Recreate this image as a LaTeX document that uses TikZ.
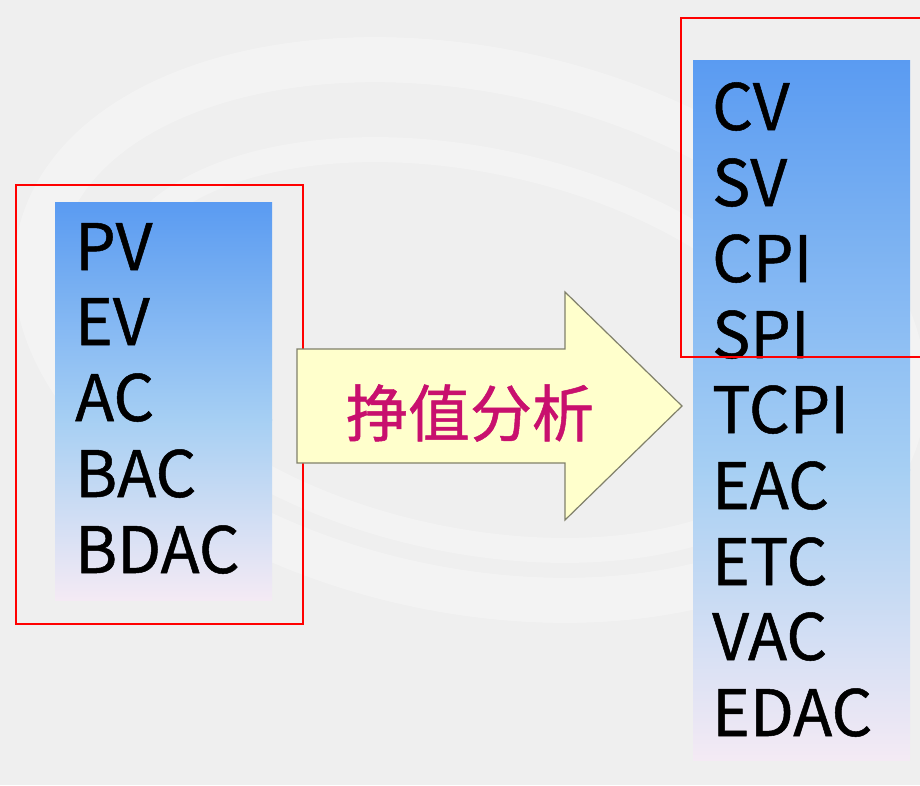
\documentclass[tikz,border=0pt]{standalone}
\usepackage{fontspec}
\newfontfamily\cjk[FakeBold=0.8]{Noto Sans CJK SC}
\definecolor{bg}{HTML}{EFEFEF}
\definecolor{blueTop}{HTML}{5A9BF2}
\definecolor{blueMid}{HTML}{A6CFF3}
\definecolor{paleBot}{HTML}{F4EAF4}
\definecolor{arrowFill}{HTML}{FFFFCC}
\definecolor{arrowLine}{HTML}{80806A}
\definecolor{labelCol}{HTML}{C8106E}
\tikzset{
  term/.style={anchor=base west, inner sep=0pt, font=\cjk\fontsize{64}{64}\selectfont, text=black},
  redframe/.style={draw=red, line width=1.8pt},
  swirl/.style={draw=white, opacity=0.3, line width=45pt},
}
\begin{document}
\begin{tikzpicture}[x=1pt,y=-1pt]
\useasboundingbox (0,0) rectangle (920,785);
\fill[bg] (0,0) rectangle (920,785);
% background swirls
\begin{scope}
\clip (0,0) rectangle (920,785);
\draw[swirl] (470,330) ellipse [x radius=440, y radius=260, rotate=-12];
\draw[swirl, line width=25pt, opacity=0.25] (470,350) ellipse [x radius=360, y radius=190, rotate=-12];
\end{scope}
% left gradient box
\shade[top color=blueTop, bottom color=blueMid] (55,202) rectangle (272,420);
\shade[top color=blueMid, bottom color=paleBot] (55,419.5) rectangle (272,600);
% right gradient box
\shade[top color=blueTop, bottom color=blueMid] (693,60) rectangle (910,470);
\shade[top color=blueMid, bottom color=paleBot] (693,469.5) rectangle (910,760);
% left terms
\node[term] (pv) at (75,270) {PV};
\node[term] (ev) at (75,345) {EV};
\node[term] (ac) at (75,421) {AC};
\node[term] (bac) at (75,497) {BAC};
\node[term] (bdac) at (75,573) {BDAC};
% right terms
\node[term] (cv) at (712,130) {CV};
\node[term] (sv) at (712,206) {SV};
\node[term] (cpi) at (712,282) {CPI};
\node[term] (spi) at (712,358) {SPI};
\node[term] (tcpi) at (712,433) {TCPI};
\node[term] (eac) at (712,509) {EAC};
\node[term] (etc) at (712,585) {ETC};
\node[term] (vac) at (712,660) {VAC};
\node[term] (edac) at (712,736) {EDAC};
% red frames
\node[redframe, inner sep=0pt, minimum width=287pt, minimum height=439pt, anchor=north west] (leftframe) at (15,184) {};
\draw[redframe] (922,18) -- (681,18) -- (681,357) -- (922,357);
% arrow
\draw[fill=arrowFill, draw=arrowLine, line width=1.2pt]
  (297,349) -- (565,349) -- (565,292) -- (682,406) -- (565,520) -- (565,463) -- (297,463) -- cycle;
\node[inner sep=0pt, font=\cjk\fontsize{62}{62}\selectfont, text=labelCol] (lbl) at (470,413) {挣值分析};
\end{tikzpicture}
\end{document}
